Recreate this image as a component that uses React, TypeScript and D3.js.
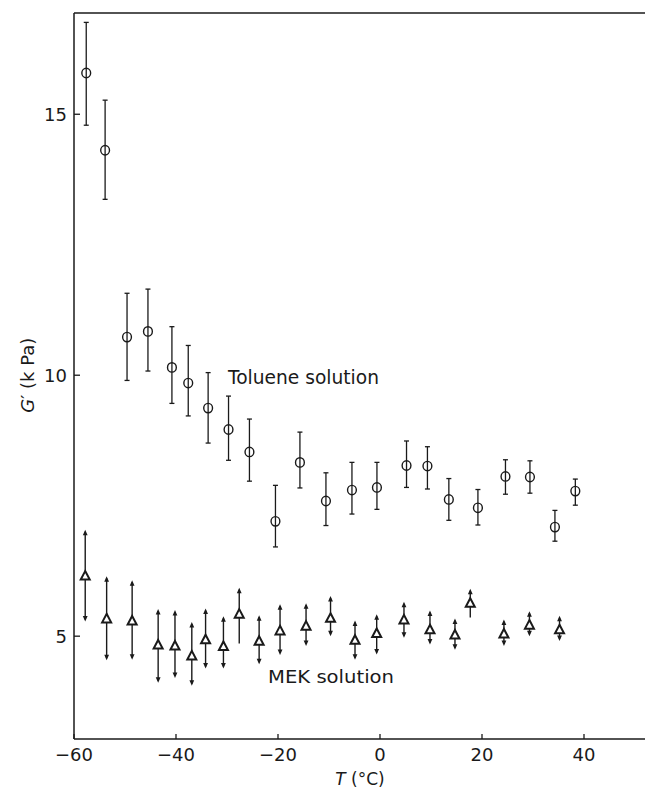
import React from "react";
import * as d3 from "d3";

const xTicks = [-60, -40, -20, 0, 20, 40];
const yTicks = [5, 10, 15];

const tolT = [-57.6, -53.9, -49.6, -45.5, -40.8, -37.6, -33.7, -29.7, -25.6, -20.5, -15.7, -10.6, -5.5, -0.6, 5.2, 9.3, 13.5, 19.2, 24.6, 29.4, 34.3, 38.3];
const tolG = [15.79, 14.31, 10.73, 10.84, 10.15, 9.85, 9.37, 8.96, 8.53, 7.2, 8.33, 7.59, 7.8, 7.85, 8.27, 8.26, 7.62, 7.46, 8.06, 8.05, 7.09, 7.78];
const tolHi = [16.76, 15.27, 11.57, 11.65, 10.93, 10.57, 10.05, 9.6, 9.16, 7.89, 8.91, 8.13, 8.33, 8.33, 8.74, 8.63, 8.02, 7.81, 8.38, 8.36, 7.41, 8.01];
const tolLo = [14.79, 13.37, 9.9, 10.08, 9.46, 9.22, 8.7, 8.37, 7.97, 6.71, 7.84, 7.12, 7.34, 7.43, 7.85, 7.82, 7.22, 7.13, 7.72, 7.74, 6.82, 7.51];

const mekT = [-57.8, -53.6, -48.6, -43.5, -40.2, -36.9, -34.2, -30.7, -27.6, -23.7, -19.6, -14.5, -9.7, -4.9, -0.65, 4.7, 9.8, 14.7, 17.7, 24.3, 29.3, 35.2];
const mekG = [6.15, 5.33, 5.29, 4.83, 4.81, 4.62, 4.93, 4.8, 5.42, 4.9, 5.1, 5.19, 5.34, 4.92, 5.05, 5.31, 5.12, 5.02, 5.63, 5.04, 5.21, 5.12];
const mekHi = [7.04, 6.15, 6.07, 5.52, 5.5, 5.27, 5.53, 5.38, 5.93, 5.4, 5.61, 5.63, 5.77, 5.3, 5.42, 5.66, 5.49, 5.34, 5.91, 5.32, 5.48, 5.39];
const mekLo = [5.28, 4.54, 4.55, 4.11, 4.2, 4.05, 4.38, 4.38, 4.86, 4.46, 4.64, 4.81, 5.0, 4.55, 4.65, 4.97, 4.84, 4.74, 5.36, 4.81, 5.0, 4.91];
const mekLoArrow = [true, true, true, true, true, true, true, true, false, true, true, true, true, true, true, true, true, true, false, true, true, true];

const W = 645;
const H = 790;
const left = 74;
const right = 645.2;
const top = 13;
const bottom = 739;

export default function App() {
  const x = d3.scaleLinear().domain([-60, 52]).range([left, right]);
  const y = d3.scaleLinear().domain([3.03, 16.94]).range([bottom, top]);
  const ink = "#1a1a1a";
  const font = "'DejaVu Sans', 'Liberation Sans', sans-serif";

  const tri = (cx: number, cy: number, s: number) => {
    const h = s * 0.95;
    return `M${cx},${cy - h * 0.6} L${cx + s / 2},${cy + h * 0.4} L${cx - s / 2},${cy + h * 0.4} Z`;
  };
  const arrowUp = (cx: number, ty: number) => `M${cx},${ty} L${cx + 2.4},${ty + 5.5} L${cx - 2.4},${ty + 5.5} Z`;
  const arrowDown = (cx: number, by: number) => `M${cx},${by} L${cx + 2.4},${by - 5.5} L${cx - 2.4},${by - 5.5} Z`;

  return (
    <svg width={W} height={H} style={{ position: "absolute", left: 0, top: 0, background: "#fff" }}>
      <rect x={0} y={0} width={W} height={H} fill="#fff" />
      {/* frame */}
      <line x1={left} y1={top} x2={W} y2={top} stroke={ink} strokeWidth={1.5} />
      <line x1={left} y1={top} x2={left} y2={bottom} stroke={ink} strokeWidth={1.5} />
      <line x1={left} y1={bottom} x2={W} y2={bottom} stroke={ink} strokeWidth={1.5} />
      {/* x ticks */}
      {xTicks.map((t) => (
        <g key={"xt" + t}>
          <line x1={x(t)} y1={bottom} x2={x(t)} y2={bottom - 5} stroke={ink} strokeWidth={1.3} />
          <text x={x(t)} y={761} textAnchor="middle" fontFamily={font} fontSize={18} fill={ink}>
            {t < 0 ? "\u2212" + Math.abs(t) : String(t)}
          </text>
        </g>
      ))}
      {/* y ticks */}
      {yTicks.map((t) => (
        <g key={"yt" + t}>
          <line x1={left} y1={y(t)} x2={left + 6} y2={y(t)} stroke={ink} strokeWidth={1.3} />
          <text x={67} y={y(t) + 6.5} textAnchor="end" fontFamily={font} fontSize={18} fill={ink}>
            {String(t)}
          </text>
        </g>
      ))}
      {/* axis titles */}
      <text x={360} y={785} textAnchor="middle" fontFamily={font} fontSize={17} fill={ink}>
        <tspan fontStyle="italic">T</tspan>
        <tspan> (°C)</tspan>
      </text>
      <text
        transform={`translate(34,${y(10)}) rotate(-90)`}
        textAnchor="middle"
        fontFamily={font}
        fontSize={18}
        fill={ink}
      >
        <tspan fontStyle="italic">G</tspan>
        <tspan>′ (k Pa)</tspan>
      </text>
      {/* series labels */}
      <text x={228} y={384} fontFamily={font} fontSize={19} fill={ink} textLength={151} lengthAdjust="spacingAndGlyphs">
        Toluene solution
      </text>
      <text x={268} y={683} fontFamily={font} fontSize={18} fill={ink} textLength={126} lengthAdjust="spacingAndGlyphs">
        MEK solution
      </text>
      {/* toluene */}
      {tolT.map((t, i) => {
        const cx = x(t);
        return (
          <g key={"tol" + i}>
            <line x1={cx} y1={y(tolHi[i])} x2={cx} y2={y(tolLo[i])} stroke={ink} strokeWidth={1.3} />
            <line x1={cx - 2.5} y1={y(tolHi[i])} x2={cx + 2.5} y2={y(tolHi[i])} stroke={ink} strokeWidth={1.3} />
            <line x1={cx - 2.5} y1={y(tolLo[i])} x2={cx + 2.5} y2={y(tolLo[i])} stroke={ink} strokeWidth={1.3} />
            <ellipse cx={cx} cy={y(tolG[i])} rx={4.4} ry={4.7} fill="#fff" stroke={ink} strokeWidth={1.4} />
            <line x1={cx} y1={y(tolG[i]) - 4.7} x2={cx} y2={y(tolG[i]) + 4.7} stroke={ink} strokeWidth={1.3} />
          </g>
        );
      })}
      {/* MEK */}
      {mekT.map((t, i) => {
        const cx = x(t);
        const hi = y(mekHi[i]);
        const lo = y(mekLo[i]);
        return (
          <g key={"mek" + i}>
            <line x1={cx} y1={hi + 2} x2={cx} y2={mekLoArrow[i] ? lo - 2 : lo} stroke={ink} strokeWidth={1.4} />
            <path d={arrowUp(cx, hi)} fill={ink} />
            {mekLoArrow[i] && <path d={arrowDown(cx, lo)} fill={ink} />}
            <path d={tri(cx, y(mekG[i]), 9)} fill="#fff" stroke={ink} strokeWidth={2} strokeLinejoin="miter" />
          </g>
        );
      })}
    </svg>
  );
}
